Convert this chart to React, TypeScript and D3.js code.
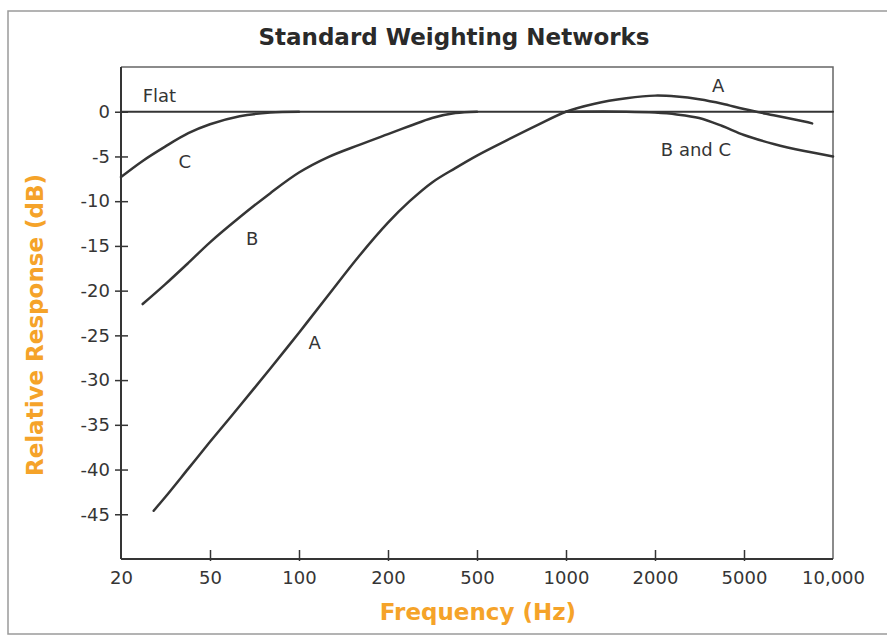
import React, { useRef, useEffect } from 'react';
import * as d3 from 'd3';

// tick values / labels
const xTicks = [20, 50, 100, 200, 500, 1000, 2000, 5000, 10000];
const xTickLabels = ['20', '50', '100', '200', '500', '1000', '2000', '5000', '10,000'];
const yTicks = [0, -5, -10, -15, -20, -25, -30, -35, -40, -45];

// curves (Hz, dB)
const flatFreq = [20, 10000];
const flatDb = [0, 0];

const freqA = [28, 31.5, 40, 50, 63, 80, 100, 125, 160, 200, 250, 315, 400, 500, 630, 800, 1000, 1250, 1600, 2000, 2500, 3150, 4000, 5000, 6300, 8000, 8500];
const dbA = [-44.6, -43.1, -39.9, -36.9, -32.9, -28.7, -24.7, -20.6, -16.1, -12.4, -10.0, -7.9, -6.3, -4.9, -3.2, -1.5, 0, 0.9, 1.5, 1.8, 1.7, 1.4, 0.9, 0.3, -0.4, -1.1, -1.3];

const freqB = [25, 31.5, 40, 50, 63, 80, 100, 125, 160, 200, 250, 315, 400, 500];
const dbB = [-21.5, -19.3, -16.9, -14.6, -11.8, -9.1, -6.8, -5.1, -3.7, -2.5, -1.6, -0.7, -0.15, 0];

const freqC = [20, 25, 31.5, 40, 50, 63, 80, 100];
const dbC = [-7.3, -5.5, -3.9, -2.4, -1.4, -0.5, -0.1, 0];

const freqBC = [1000, 1600, 2000, 2500, 3150, 4000, 5000, 6300, 8000, 10000];
const dbBC = [0, 0, -0.1, -0.3, -0.7, -1.6, -2.6, -3.6, -4.4, -5.0];

const labels = [
  { text: 'Flat', f: 25, db: 1.6, anchor: 'start' },
  { text: 'C', f: 38.6, db: -5.7, anchor: 'middle' },
  { text: 'B', f: 69.4, db: -14.3, anchor: 'middle' },
  { text: 'A', f: 113, db: -26.0, anchor: 'middle' },
  { text: 'A', f: 3830, db: 2.8, anchor: 'middle' },
  { text: 'B and C', f: 3050, db: -4.4, anchor: 'middle' },
];

const FONT = '"DejaVu Sans", sans-serif';
const ORANGE = '#f5a329';
const INK = '#353535';

const App = () => {
  const ref = useRef<SVGSVGElement>(null);

  useEffect(() => {
    const width = 887;
    const height = 640;
    const left = 121, right = 833, top = 67, bottom = 559;

    const svg = d3.select(ref.current);
    svg.selectAll('*').remove();

    // equally spaced tick positions, log inside each step
    const x = d3.scaleLog()
      .domain(xTicks)
      .range(xTicks.map((_, i) => left + i * (right - left) / (xTicks.length - 1)));
    const y = d3.scaleLinear().domain([-50, 5]).range([bottom, top]);

    svg.append('rect')
      .attr('width', width).attr('height', height).attr('fill', '#fff');

    // outer frame
    svg.append('rect')
      .attr('x', 8).attr('y', 11).attr('width', 892).attr('height', 623)
      .attr('fill', 'none').attr('stroke', '#9a9a9a').attr('stroke-width', 1.5);

    svg.append('text')
      .attr('x', 454).attr('y', 45)
      .attr('text-anchor', 'middle')
      .attr('font-family', FONT).attr('font-weight', 'bold').attr('font-size', 23)
      .attr('fill', '#2a2a2a')
      .text('Standard Weighting Networks');

    // plot box (top & right)
    svg.append('path')
      .attr('d', `M${left},${top}H${right}V${bottom}`)
      .attr('fill', 'none').attr('stroke', '#666').attr('stroke-width', 1.5);

    const yAxis = svg.append('g')
      .attr('transform', `translate(${left},0)`)
      .call(d3.axisLeft(y).tickValues(yTicks).tickFormat(d => `${d}`).tickSize(6).tickPadding(5));
    yAxis.select('.domain').attr('d', `M0,${top}V${bottom}`).attr('stroke', INK).attr('stroke-width', 2);
    yAxis.selectAll('.tick line').attr('x1', -6).attr('x2', 7).attr('stroke', INK).attr('stroke-width', 1.5);
    yAxis.selectAll('.tick text')
      .attr('font-family', FONT).attr('font-size', 18).attr('fill', INK);

    const xAxis = svg.append('g')
      .attr('transform', `translate(0,${bottom})`)
      .call(d3.axisBottom(x).tickValues(xTicks).tickFormat((_, i) => xTickLabels[i]).tickSize(0).tickPadding(12));
    xAxis.select('.domain').attr('d', `M${left},0H${right}`).attr('stroke', INK).attr('stroke-width', 2);
    xAxis.selectAll('.tick line').attr('y1', 2).attr('y2', -9).attr('stroke', INK).attr('stroke-width', 1.5);
    xAxis.selectAll('.tick text')
      .attr('font-family', FONT).attr('font-size', 18).attr('fill', INK);
    xAxis.selectAll('.tick').filter((d: any) => d === 20 || d === 10000).select('line').remove();

    svg.append('text')
      .attr('transform', `translate(43,${(top + bottom) / 2 + 12}) rotate(-90)`)
      .attr('text-anchor', 'middle')
      .attr('font-family', FONT).attr('font-weight', 'bold').attr('font-size', 23)
      .attr('fill', ORANGE)
      .text('Relative Response (dB)');

    svg.append('text')
      .attr('x', 478).attr('y', 620)
      .attr('text-anchor', 'middle')
      .attr('font-family', FONT).attr('font-weight', 'bold').attr('font-size', 23)
      .attr('fill', ORANGE)
      .text('Frequency (Hz)');

    const line = d3.line<[number, number]>()
      .x(d => x(d[0]))
      .y(d => y(d[1]))
      .curve(d3.curveCatmullRom.alpha(0.5));

    const series = [
      { f: flatFreq, v: flatDb, w: 2 },
      { f: freqC, v: dbC, w: 2.5 },
      { f: freqB, v: dbB, w: 2.5 },
      { f: freqA, v: dbA, w: 2.5 },
      { f: freqBC, v: dbBC, w: 2.5 },
    ];
    series.forEach(s => {
      svg.append('path')
        .datum(s.f.map((f, i) => [f, s.v[i]] as [number, number]))
        .attr('d', line)
        .attr('fill', 'none')
        .attr('stroke', INK)
        .attr('stroke-width', s.w)
        .attr('stroke-linecap', 'round');
    });

    svg.selectAll('text.curve-label')
      .data(labels)
      .enter().append('text')
      .attr('class', 'curve-label')
      .attr('x', d => x(d.f))
      .attr('y', d => y(d.db))
      .attr('text-anchor', d => d.anchor)
      .attr('dominant-baseline', 'middle')
      .attr('font-family', FONT).attr('font-size', 18)
      .attr('fill', INK)
      .text(d => d.text);
  }, []);

  return <svg ref={ref} width={887} height={640} style={{ position: 'absolute', left: 0, top: 0 }} />;
};

export default App;
